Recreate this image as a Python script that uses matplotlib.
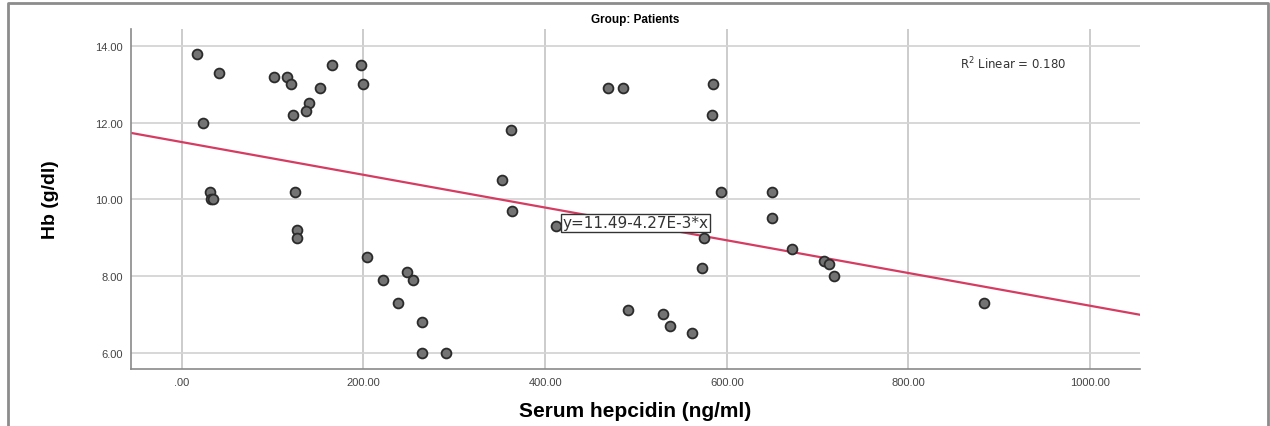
import matplotlib
matplotlib.use("Agg")
import matplotlib.pyplot as plt
import numpy as np

plt.rcParams['font.family'] = ['Liberation Sans', 'DejaVu Sans']

# Serum hepcidin (ng/ml) and Hb (g/dl)
hepcidin = [17, 41, 23, 31, 32, 34, 101, 116, 120, 152, 165, 197, 200, 140, 137, 122,
            125, 127, 127, 204, 222, 248, 255, 238, 264, 264, 291,
            353, 362, 364, 412, 469, 486, 585, 584, 594,
            575, 573, 491, 530, 538, 562,
            650, 650, 672, 707, 713, 718, 883]
hb = [13.8, 13.3, 12.0, 10.2, 10.0, 10.0, 13.2, 13.2, 13.0, 12.9, 13.5, 13.5, 13.0, 12.5, 12.3, 12.2,
      10.2, 9.2, 9.0, 8.5, 7.9, 8.1, 7.9, 7.3, 6.8, 6.0, 6.0,
      10.5, 11.8, 9.7, 9.3, 12.9, 12.9, 13.0, 12.2, 10.2,
      9.0, 8.2, 7.1, 7.0, 6.7, 6.5,
      10.2, 9.5, 8.7, 8.4, 8.3, 8.0, 7.3]

intercept = 11.49
slope = -4.27e-3
r2 = 0.180

x_ticks = [0, 200, 400, 600, 800, 1000]
x_labels = [".00", "200.00", "400.00", "600.00", "800.00", "1000.00"]
y_ticks = [6, 8, 10, 12, 14]
y_labels = ["6.00", "8.00", "10.00", "12.00", "14.00"]

fig = plt.figure(figsize=(12.7, 4.27), dpi=100)
ax = fig.add_axes([131 / 1270, 1 - 370 / 427, (1140 - 131) / 1270, (370 - 30) / 427])

xmin, xmax = -56, 1055
ax.set_xlim(xmin, xmax)
ax.set_ylim(5.57, 14.44)

# grid
for t in x_ticks:
    ax.axvline(t, color='#c8c8c8', lw=1.3, zorder=0)
for t in y_ticks:
    ax.axhline(t, color='#d4d4d4', lw=1.3, zorder=0)

# fit line
xs = np.array([xmin, xmax])
ax.plot(xs, intercept + slope * xs, color='#d63c62', lw=1.6, zorder=2)

ax.scatter(hepcidin, hb, s=50, facecolor='#737373', edgecolor='#2b2b2b',
           linewidth=1.3, zorder=3)

ax.set_xticks(x_ticks)
ax.set_xticklabels(x_labels)
ax.set_yticks(y_ticks)
ax.set_yticklabels(y_labels)
ax.tick_params(length=0, labelsize=8, colors='#444444', pad=6)

for s in ['top', 'right']:
    ax.spines[s].set_visible(False)
for s in ['left', 'bottom']:
    ax.spines[s].set_color('#8a8a8a')
    ax.spines[s].set_linewidth(1.2)

ax.set_xlabel("Serum hepcidin (ng/ml)", fontsize=15, fontweight='bold', labelpad=10)
ax.set_ylabel("Hb (g/dl)", fontsize=14, fontweight='bold', labelpad=26)

fig.text(0.5, 1 - 20 / 427, "Group: Patients", ha='center', va='center',
         fontsize=8.5, fontweight='bold')

ax.text(915, 13.56, "R$^2$ Linear = %.3f" % r2, ha='center', va='center', fontsize=8.5,
        color='#333333', family=['DejaVu Sans'])

ax.text(419, 9.38, "y=11.49-4.27E-3*x", ha='left', va='center',
        fontsize=11, color='#333333', zorder=4, family=['DejaVu Sans'],
        bbox=dict(boxstyle='square,pad=0.12', facecolor='white', edgecolor='#333333', lw=1))

# outer frame (top, left, right)
fig.add_artist(plt.Line2D([8 / 1270, 8 / 1270, 1268 / 1270, 1268 / 1270],
                          [0, 1 - 4 / 427, 1 - 4 / 427, 0],
                          transform=fig.transFigure, color='#8c8c8c', lw=2))

fig.savefig("out.png", dpi=100)
